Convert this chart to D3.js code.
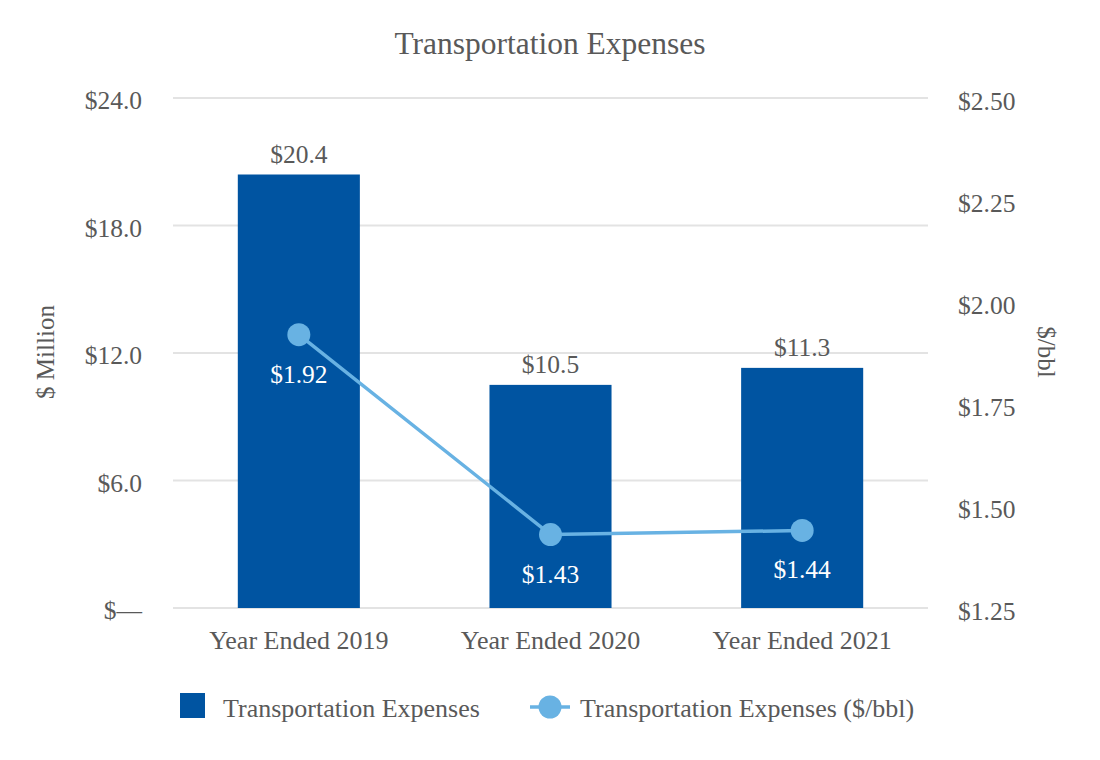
<!DOCTYPE html>
<html><head><meta charset="utf-8">
<script src="https://cdn.jsdelivr.net/npm/d3@7"></script>
<style>body{margin:0;background:#fff}text{font-family:"Liberation Serif","Times New Roman",serif;fill:#595959}</style>
</head><body><svg id="c" width="1100" height="760"></svg>
<script>
const categories = ["Year Ended 2019", "Year Ended 2020", "Year Ended 2021"];
const expenses = [20.4, 10.5, 11.3];
const perBbl = [1.92, 1.43, 1.44];
const leftTicks = [0, 6, 12, 18, 24];
const leftTickLabels = ["$\u2014", "$6.0", "$12.0", "$18.0", "$24.0"];
const rightTicks = [1.25, 1.5, 1.75, 2.0, 2.25, 2.5];

const svg = d3.select("#c");
const L = 173, R = 928, T = 98, B = 608;
const x = d3.scaleBand().domain(categories).range([L, R]).padding(0);
const y = d3.scaleLinear().domain([0, 24]).range([B, T]);
const y2 = d3.scaleLinear().domain([1.25, 2.5]).range([B, T]);
const barW = x.bandwidth() * 0.485;
const barColor = "#0054A1", lineColor = "#68B2E3";

svg.append("text").attr("x", 550).attr("y", 54).attr("text-anchor", "middle").attr("font-size", 31.5).text("Transportation Expenses");

svg.append("g").selectAll("line").data(leftTicks).join("line")
  .attr("x1", L).attr("x2", R).attr("y1", d => y(d)).attr("y2", d => y(d))
  .attr("stroke", "#e3e3e3").attr("stroke-width", 2);

svg.append("g").selectAll("text").data(leftTicks).join("text")
  .attr("x", 142).attr("y", d => y(d) + 11).attr("text-anchor", "end").attr("font-size", 25.5)
  .text((d, i) => leftTickLabels[i]);

svg.append("g").selectAll("text").data(rightTicks).join("text")
  .attr("x", 958).attr("y", d => y2(d) + 12).attr("text-anchor", "start").attr("font-size", 25.5)
  .text(d => "$" + d.toFixed(2));

svg.append("text").attr("transform", "translate(54,352) rotate(-90)").attr("text-anchor", "middle").attr("font-size", 25).text("$ Million");
svg.append("text").attr("transform", "translate(1038,352) rotate(90)").attr("text-anchor", "middle").attr("font-size", 25).text("$/bbl");

svg.append("g").selectAll("rect").data(expenses).join("rect")
  .attr("x", (d, i) => x(categories[i]) + x.bandwidth() / 2 - barW / 2)
  .attr("width", barW).attr("y", d => y(d)).attr("height", d => B - y(d))
  .attr("fill", barColor);

svg.append("g").selectAll("text").data(expenses).join("text")
  .attr("x", (d, i) => x(categories[i]) + x.bandwidth() / 2).attr("y", d => y(d) - 12)
  .attr("text-anchor", "middle").attr("font-size", 25.5).text(d => "$" + d.toFixed(1));

svg.append("g").selectAll("text").data(categories).join("text")
  .attr("x", d => x(d) + x.bandwidth() / 2).attr("y", 649)
  .attr("text-anchor", "middle").attr("font-size", 26).text(d => d);

const line = d3.line().x((d, i) => x(categories[i]) + x.bandwidth() / 2).y(d => y2(d));
svg.append("path").datum(perBbl).attr("d", line).attr("fill", "none").attr("stroke", lineColor).attr("stroke-width", 3.5);
svg.append("g").selectAll("circle").data(perBbl).join("circle")
  .attr("cx", (d, i) => x(categories[i]) + x.bandwidth() / 2).attr("cy", d => y2(d)).attr("r", 11.5)
  .attr("fill", lineColor);
svg.append("g").selectAll("text").data(perBbl).join("text")
  .attr("x", (d, i) => x(categories[i]) + x.bandwidth() / 2).attr("y", d => y2(d) + 48)
  .attr("text-anchor", "middle").attr("font-size", 25.5).style("fill", "#fff").text(d => "$" + d.toFixed(2));

const lg = svg.append("g");
lg.append("rect").attr("x", 180).attr("y", 693).attr("width", 25).attr("height", 25).attr("fill", barColor);
lg.append("text").attr("x", 223).attr("y", 717).attr("font-size", 26).text("Transportation Expenses");
lg.append("line").attr("x1", 530).attr("x2", 570).attr("y1", 707).attr("y2", 707).attr("stroke", lineColor).attr("stroke-width", 3.5);
lg.append("circle").attr("cx", 550).attr("cy", 707).attr("r", 11.5).attr("fill", lineColor);
lg.append("text").attr("x", 580).attr("y", 717).attr("font-size", 26).text("Transportation Expenses ($/bbl)");
</script></body></html>
